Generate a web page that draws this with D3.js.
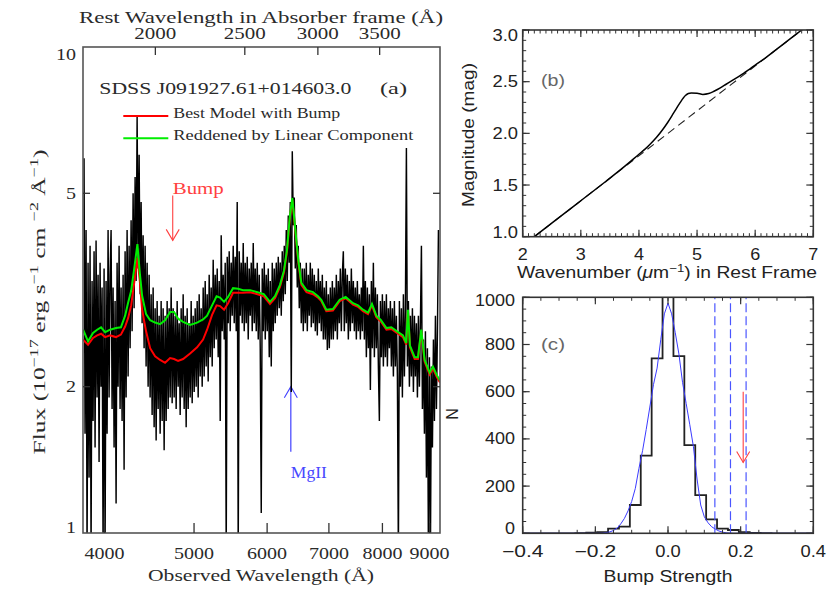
<!DOCTYPE html>
<html><head><meta charset="utf-8">
<script src="https://cdn.jsdelivr.net/npm/d3@7"></script>
<style>body{margin:0;background:#fff}svg{display:block}</style>
</head><body>
<svg id="c" width="830" height="593"></svg>
<script>
// ---------------- DATA ----------------
const zAbs = 1.27;
const specStart = 3800, specEnd = 9200;   // observed wavelength grid (log-uniform)
const specFlux = [
5.9,1.6,4.2,0.9,3.6,1.3,3.9,0.9,3.3,1.7,
3.8,1.5,4.0,1.9,3.4,1.4,3.6,2.0,3.2,0.9,
3.5,0.9,3.3,1.6,4.2,1.9,3.4,4.2,1.8,3.2,
1.5,3.0,1.15,3.6,2.0,3.9,1.8,3.2,1.7,3.4,
1.35,3.8,1.9,4.2,2.1,3.9,2.4,4.4,2.6,5.0,
2.9,5.4,3.3,7.2,3.5,6.0,3.1,4.8,2.7,4.1,
2.4,3.9,2.2,3.6,2.0,3.4,1.9,3.1,1.75,3.2,
1.65,2.9,1.55,3.0,1.8,2.8,1.6,3.0,1.7,2.9,
1.48,2.8,1.7,3.0,1.8,2.9,1.9,3.2,1.85,2.9,
1.9,2.8,1.8,3.0,2.0,2.7,1.75,2.9,1.9,3.1,
1.8,2.8,1.65,2.9,1.8,2.7,1.9,3.0,1.85,2.8,
1.95,2.9,2.0,3.0,1.9,3.1,2.1,2.9,2.0,3.2,
2.1,3.3,2.2,3.1,2.05,3.4,2.3,3.2,2.2,3.65,
2.4,3.4,2.5,3.5,2.3,3.3,1.7,4.1,2.6,3.4,
2.5,3.6,0.9,3.7,2.7,3.8,2.6,3.6,2.8,3.9,
2.7,3.7,2.6,4.8,0.9,3.8,2.8,3.6,2.7,3.95,
2.6,3.6,2.7,3.7,2.5,3.5,2.8,3.6,2.6,3.95,
2.7,3.5,2.6,3.6,2.5,3.4,2.4,1.1,3.5,2.6,
3.6,2.5,3.4,2.6,3.5,2.3,3.3,2.2,3.6,2.6,
3.5,2.7,3.6,2.8,3.7,2.9,3.6,2.8,3.8,3.0,
3.9,3.1,4.2,3.3,4.5,3.6,4.8,1.95,6.1,4.3,
4.9,3.5,4.3,3.2,3.9,2.9,3.6,2.7,3.5,2.6,
3.5,2.7,3.6,2.6,3.4,2.8,3.6,2.65,3.5,2.7,
3.4,2.6,3.3,2.55,3.5,2.7,3.3,2.6,3.4,2.5,
3.2,2.5,3.3,2.38,3.1,2.4,3.2,2.5,3.3,2.5,
3.2,2.6,3.4,2.5,3.3,2.7,3.5,2.6,3.4,3.8,
2.6,3.5,2.7,3.4,2.5,3.3,2.6,3.5,2.7,3.3,
2.6,3.2,2.5,3.3,2.6,3.1,2.5,3.2,2.6,3.9,
2.5,3.3,2.3,3.2,2.4,3.1,1.97,3.3,2.4,3.6,
2.3,3.2,2.4,3.1,2.2,1.7,3.0,2.3,3.1,2.2,
3.0,2.3,3.1,2.2,2.9,2.4,3.0,2.2,2.9,2.1,
3.0,2.2,2.8,2.1,0.9,3.0,2.0,2.9,1.9,3.1,
2.1,2.9,6.2,2.2,3.0,2.0,2.8,2.1,2.9,1.95,
2.8,2.1,2.7,1.9,2.8,2.0,2.7,3.9,1.8,2.5,
1.6,2.6,1.3,2.4,0.9,2.3,0.9,2.2,1.5,2.5,
1.7,2.8,1.8,2.6,4.2];
const modelLam = [3791,3838,3886,3926,3965,4005,4055,4115,4166,4210,4242,4274,4311,4341,4367,4392,4436,4481,4537,4594,4651,4710,4757,4805,4865,4951,5038,5114,5165,5230,5289,5335,5389,5443,5511,5580,5650,5750,5858,5950,6043,6119,6196,6258,6304,6352,6389,6416,6453,6489,6535,6620,6727,6812,6868,6955,7070,7191,7299,7434,7527,7621,7717,7794,7879,7971,8081,8179,8296,8421,8490,8526,8569,8670,8742,8814,8889,9000,9075,9166,9235];
const modelLinear = [2.62,2.48,2.58,2.62,2.65,2.59,2.62,2.64,2.65,2.80,2.98,3.15,3.55,3.93,3.43,3.08,2.82,2.74,2.71,2.69,2.74,2.85,2.85,2.76,2.72,2.68,2.71,2.75,2.80,2.94,3.07,3.05,2.99,3.06,3.19,3.18,3.16,3.16,3.13,3.10,2.99,3.07,3.24,3.47,3.82,4.51,4.89,4.51,4.01,3.61,3.27,3.16,3.13,3.07,3.02,2.88,2.89,3.02,3.06,2.97,2.94,2.88,2.84,2.96,2.80,2.74,2.64,2.65,2.60,2.55,2.46,2.88,2.43,2.30,2.30,2.62,2.27,2.14,2.20,2.11,2.06];
const modelBump = [2.50,2.44,2.52,2.55,2.57,2.53,2.55,2.53,2.56,2.66,2.77,2.94,3.32,3.68,3.30,2.88,2.60,2.40,2.31,2.27,2.24,2.29,2.28,2.26,2.28,2.34,2.41,2.50,2.62,2.81,2.94,2.93,2.88,2.97,3.12,3.12,3.12,3.13,3.10,3.07,2.96,3.04,3.21,3.44,3.79,4.47,4.85,4.47,3.97,3.58,3.24,3.13,3.10,3.05,3.00,2.86,2.87,3.00,3.04,2.95,2.92,2.86,2.82,2.94,2.78,2.72,2.62,2.63,2.58,2.53,2.44,2.86,2.41,2.28,2.28,2.60,2.25,2.12,2.18,2.09,2.04];
const obsTicks = [4000,5000,6000,7000,8000,9000];
const restTicks = [2000,2500,3000,3500];
const fluxTicks = [1,2,5,10];

// panel (b)
const waveNum = [2.2,2.6,3.0,3.4,3.8,4.0,4.1,4.2,4.3,4.4,4.5,4.6,4.7,4.8,4.85,4.9,5.0,5.1,5.2,5.3,5.4,5.5,5.6,5.7,5.8,5.9,6.0,6.2,6.4,6.6,6.8,6.9];
const magTotal = [1.0,1.174,1.348,1.522,1.702,1.798,1.845,1.90,1.96,2.03,2.11,2.20,2.29,2.366,2.385,2.39,2.388,2.377,2.385,2.41,2.44,2.475,2.51,2.545,2.58,2.62,2.66,2.74,2.827,2.914,3.0,3.044];
const linWaveNum = [2.2,6.9];
const linMag = [1.0,3.044];
const bXTicks = [2,3,4,5,6,7];
const bYTicks = [1.0,1.5,2.0,2.5,3.0];

// panel (c)
const histCenters = [-0.39,-0.36,-0.33,-0.30,-0.27,-0.24,-0.21,-0.18,-0.15,-0.12,-0.09,-0.06,-0.03,0.0,0.03,0.06,0.09,0.12,0.15,0.18,0.21,0.24,0.27,0.30,0.33,0.36,0.39];
const histCounts = [0,0,0,0,0,1,3,5,20,28,120,329,741,1090,751,374,162,59,20,14,5,2,1,0,0,0,0];
const fitX = [-0.4,-0.2,-0.19,-0.18,-0.17,-0.16,-0.15,-0.14,-0.13,-0.12,-0.11,-0.10,-0.09,-0.08,-0.07,-0.06,-0.05,-0.04,-0.03,-0.02,-0.01,0.0,0.01,0.02,0.03,0.04,0.05,0.06,0.07,0.08,0.09,0.10,0.11,0.12,0.13,0.14,0.15,0.16,0.17,0.18,0.19,0.2,0.4];
const fitY = [0,0,0,1,3,6,12,22,40,63,95,135,190,275,350,440,535,630,700,820,930,975,930,850,760,640,550,460,367,230,120,70,45,28,18,10,5,2,1,0,0,0,0];
const limitLines = [0.129,0.172,0.215];
const measuredBump = 0.207;
const cXTicks = [-0.4,-0.2,0.0,0.2,0.4];
const cYTicks = [0,200,400,600,800,1000];

// ---------------- DRAW ----------------
const svg = d3.select('#c');
const SERIF = "'Liberation Serif','DejaVu Serif',serif";
const SANS = "'Liberation Sans','DejaVu Sans',sans-serif";
const defs = svg.append('defs');
function clip(id,x,y,w,h){defs.append('clipPath').attr('id',id).append('rect').attr('x',x).attr('y',y).attr('width',w).attr('height',h);}
function txt(g,x,y,s,o={}){
  const t=g.append('text').attr('x',x).attr('y',y).text(s)
    .attr('font-family',o.family||SERIF).attr('font-size',o.size||15)
    .attr('fill',o.fill||'#2a2a2a').attr('text-anchor',o.anchor||'start');
  if(o.len) t.attr('textLength',o.len).attr('lengthAdjust','spacingAndGlyphs');
  if(o.rotate!==undefined) t.attr('transform',`rotate(${o.rotate},${x},${y})`);
  return t;
}
function seg(g,x1,y1,x2,y2,c,w,dash){const l=g.append('line').attr('x1',x1).attr('y1',y1).attr('x2',x2).attr('y2',y2).attr('stroke',c).attr('stroke-width',w||1);if(dash)l.attr('stroke-dasharray',dash);return l;}

// ===== Panel (a) =====
const A = svg.append('g');
const ax = d3.scaleLog().domain([3790,9236]).range([83,440]);
const ay = d3.scaleLog().domain([1,10]).range([533,47]);
clip('clipA',83,47,357,486);
const N = specFlux.length;
const specLam = specFlux.map((d,i)=>specStart*Math.pow(specEnd/specStart,i/(N-1)));

// MgII marker (under spectrum)
const mgLam = 2800*(1+zAbs)*1.0015;
const mgX = ax(mgLam);
seg(A,mgX,ay(2.0),mgX,ay(1.47),'#4040ff',1.2);
A.append('path').attr('d',`M${mgX-6.5},${ay(2.0)+11}L${mgX},${ay(2.0)}L${mgX+6.5},${ay(2.0)+11}`).attr('fill','none').attr('stroke','#4040ff').attr('stroke-width',1.1);
txt(A,mgX,ay(1.3),'MgII',{size:17,fill:'#4848ff',len:36});

const gA = A.append('g').attr('clip-path','url(#clipA)');
gA.append('path').datum(specFlux)
  .attr('d',d3.line().x((d,i)=>ax(specLam[i])).y(d=>ay(d)))
  .attr('fill','none').attr('stroke','#000').attr('stroke-width',1.45).attr('stroke-linejoin','miter').attr('stroke-miterlimit',2);
gA.append('path').datum(modelBump)
  .attr('d',d3.line().x((d,i)=>ax(modelLam[i])).y(d=>ay(d)))
  .attr('fill','none').attr('stroke','#ff0000').attr('stroke-width',2);
gA.append('path').datum(modelLinear)
  .attr('d',d3.line().x((d,i)=>ax(modelLam[i])).y(d=>ay(d)))
  .attr('fill','none').attr('stroke','#00ee00').attr('stroke-width',2);

// frame + ticks
A.append('rect').attr('x',83).attr('y',47).attr('width',357).attr('height',486).attr('fill','none').attr('stroke','#555').attr('stroke-width',1.6);
obsTicks.forEach(t=>{seg(A,ax(t),533,ax(t),523,'#333',1.3);
  txt(A,ax(t),559,String(t),{size:17,anchor:'middle',len:40});});
restTicks.forEach(t=>{const x=ax(t*(1+zAbs));seg(A,x,47,x,55,'#333',1.3);
  txt(A,x,39,String(t),{size:16,anchor:'middle',len:42});});
fluxTicks.forEach(t=>{
  if(t>1&&t<10){seg(A,83,ay(t),90,ay(t),'#333',1.3);seg(A,440,ay(t),433,ay(t),'#333',1.3);}
  const off = t===10?7:(t===1?-6:0);
  txt(A,76,ay(t)+off+5.5,String(t),{size:17,anchor:'end',len:String(t).length*10});
});
txt(A,261,23,'Rest Wavelength in Absorber frame (Å)',{size:16,anchor:'middle',len:364});
txt(A,261,581,'Observed Wavelength (Å)',{size:17,anchor:'middle',len:226});
// y label with superscripts
{
  const t=A.append('text').attr('x',45).attr('y',302).attr('transform','rotate(-90,45,302)')
    .attr('font-family',SERIF).attr('font-size',17).attr('fill','#2a2a2a').attr('text-anchor','middle')
    .attr('textLength',305).attr('lengthAdjust','spacingAndGlyphs');
  const parts=[['Flux (10',0],['−17',1],[' erg s',0],['−1',1],[' cm ',0],['−2',1],[' Å',0],['−1',1],[')',0]];
  let sup=false;
  parts.forEach(([s,p])=>{const ts=t.append('tspan').text(s);
    if(p&&!sup){ts.attr('dy',-7).attr('font-size',12);sup=true;}
    else if(p){ts.attr('font-size',12);}
    else if(!p&&sup){ts.attr('dy',7);sup=false;}
  });
}
// title and legend
txt(A,99.3,94.3,'SDSS J091927.61+014603.0',{size:17,len:252});
txt(A,380,94.3,'(a)',{size:17,len:27});
seg(A,123.3,116,168.3,116,'#ff0000',2);
seg(A,123.3,138.3,168.3,138.3,'#00ee00',2);
txt(A,173.3,117.5,'Best Model with Bump',{size:14.5,len:167});
txt(A,173.3,139.5,'Reddened by Linear Component',{size:14.5,len:240});
// bump arrow
const bumpX = ax(4741);
txt(A,bumpX,ay(5.0)+1,'Bump',{size:17,fill:'#ff4040',len:51});
seg(A,bumpX,ay(4.95),bumpX,ay(4.0),'#ff4040',1.1);
A.append('path').attr('d',`M${bumpX-6.5},${ay(4.0)-11}L${bumpX},${ay(4.0)}L${bumpX+6.5},${ay(4.0)-11}`).attr('fill','none').attr('stroke','#ff4040').attr('stroke-width',1.1);

// ===== generic IDL-like box with ticks =====
function idlBox(g,xs,ys,xMajor,xMinor,yMajor,yMinor){
  const [x0,x1]=xs.range(), [y0,y1]=ys.range(); // y0 bottom, y1 top
  xMinor.forEach(v=>{const x=xs(v);seg(g,x,y0,x,y0-3.5,'#333',1);seg(g,x,y1,x,y1+3.5,'#333',1);});
  yMinor.forEach(v=>{const y=ys(v);seg(g,x0,y,x0+3.5,y,'#333',1);seg(g,x1,y,x1-3.5,y,'#333',1);});
  xMajor.forEach(v=>{const x=xs(v);seg(g,x,y0,x,y0-7,'#333',1.2);seg(g,x,y1,x,y1+7,'#333',1.2);});
  yMajor.forEach(v=>{const y=ys(v);seg(g,x0,y,x0+7,y,'#333',1.2);seg(g,x1,y,x1-7,y,'#333',1.2);});
  g.append('rect').attr('x',x0).attr('y',y1).attr('width',x1-x0).attr('height',y0-y1).attr('fill','none').attr('stroke','#333').attr('stroke-width',1.6);
}
function sansLen(s){let w=0;for(const c of s)w+=c==='.'?5.5:(c==='−'?16:10);return w;}

// ===== Panel (b) =====
const B = svg.append('g');
const bx = d3.scaleLinear().domain([2,7]).range([522.7,813.3]);
const by = d3.scaleLinear().domain([1,3]).range([236.7,30]);
clip('clipB',522.7,30,290.6,206.7);
const gB = B.append('g').attr('clip-path','url(#clipB)');
gB.append('path').datum(linMag).attr('d',d3.line().x((d,i)=>bx(linWaveNum[i])).y(d=>by(d)))
  .attr('fill','none').attr('stroke','#222').attr('stroke-width',1.1).attr('stroke-dasharray','8,5');
gB.append('path').datum(magTotal).attr('d',d3.line().curve(d3.curveMonotoneX).x((d,i)=>bx(waveNum[i])).y(d=>by(d)))
  .attr('fill','none').attr('stroke','#000').attr('stroke-width',1.5);
idlBox(B,bx,by,bXTicks,bx.ticks(50),bYTicks,by.ticks(20));
bXTicks.forEach(v=>txt(B,bx(v),260,String(v),{family:SANS,size:16,anchor:'middle',fill:'#222',len:sansLen(String(v))}));
bYTicks.forEach(v=>{const s=v.toFixed(1);const off=v===3?5:(v===1?-4:0);
  txt(B,518,by(v)+off+5.5,s,{family:SANS,size:16,anchor:'end',fill:'#222',len:sansLen(s)});});
{
  const t=B.append('text').attr('x',667).attr('y',278).attr('font-family',SANS).attr('font-size',16).attr('fill','#222').attr('text-anchor','middle').attr('textLength',300).attr('lengthAdjust','spacingAndGlyphs');
  t.append('tspan').text('Wavenumber (');
  t.append('tspan').text('μ').attr('font-style','italic');
  t.append('tspan').text('m');
  t.append('tspan').text('−1').attr('dy',-6).attr('font-size',11);
  t.append('tspan').text(') in Rest Frame').attr('dy',6);
}
txt(B,474,135,'Magnitude (mag)',{family:SANS,size:16,anchor:'middle',fill:'#222',rotate:-90,len:144});
txt(B,541,86,'(b)',{family:SANS,size:17,fill:'#666',len:24});

// ===== Panel (c) =====
const C = svg.append('g');
const cx = d3.scaleLinear().domain([-0.4,0.4]).range([522.7,813.3]);
const cy = d3.scaleLinear().domain([0,1000]).range([533.3,297.3]);
clip('clipC',522.7,297.3,290.6,236);
const gC = C.append('g').attr('clip-path','url(#clipC)');
const bw = 0.03;
const stepPts = [];
histCenters.forEach((c,i)=>{stepPts.push([c-bw/2,histCounts[i]]);stepPts.push([c+bw/2,histCounts[i]]);});
gC.append('path').datum(stepPts).attr('d',d3.line().x(d=>cx(d[0])).y(d=>cy(d[1])))
  .attr('fill','none').attr('stroke','#222').attr('stroke-width',1.8);
gC.append('path').datum(fitY).attr('d',d3.line().x((d,i)=>cx(fitX[i])).y(d=>cy(d)))
  .attr('fill','none').attr('stroke','#3a3aff').attr('stroke-width',1);
limitLines.forEach(v=>seg(gC,cx(v),533.3,cx(v),297.3,'#4a55ff',1.2,'9,4'));
{
  const x=cx(measuredBump);
  seg(gC,x,cy(600),x,cy(300),'#ff4040',1.1);
  gC.append('path').attr('d',`M${x-6.5},${cy(300)-11}L${x},${cy(300)}L${x+6.5},${cy(300)-11}`).attr('fill','none').attr('stroke','#ff4040').attr('stroke-width',1.1);
}
idlBox(C,cx,cy,cXTicks,cx.ticks(16),cYTicks,cy.ticks(20));
cXTicks.forEach(v=>{const s=(v<0?'−':'')+Math.abs(v).toFixed(1);
  txt(C,cx(v),557,s,{family:SANS,size:16,anchor:'middle',fill:'#222',len:sansLen(s)});});
cYTicks.forEach(v=>{const s=String(v);const off=v===1000?3:(v===0?-5:0);
  txt(C,515,cy(v)+off+5.5,s,{family:SANS,size:16,anchor:'end',fill:'#222',len:sansLen(s)});});
txt(C,668,582,'Bump Strength',{family:SANS,size:16,anchor:'middle',fill:'#222',len:129});
txt(C,458,414,'N',{family:SANS,size:16,anchor:'middle',fill:'#222',rotate:-90});
txt(C,541,350,'(c)',{family:SANS,size:17,fill:'#666',len:24});
</script>
</body></html>
